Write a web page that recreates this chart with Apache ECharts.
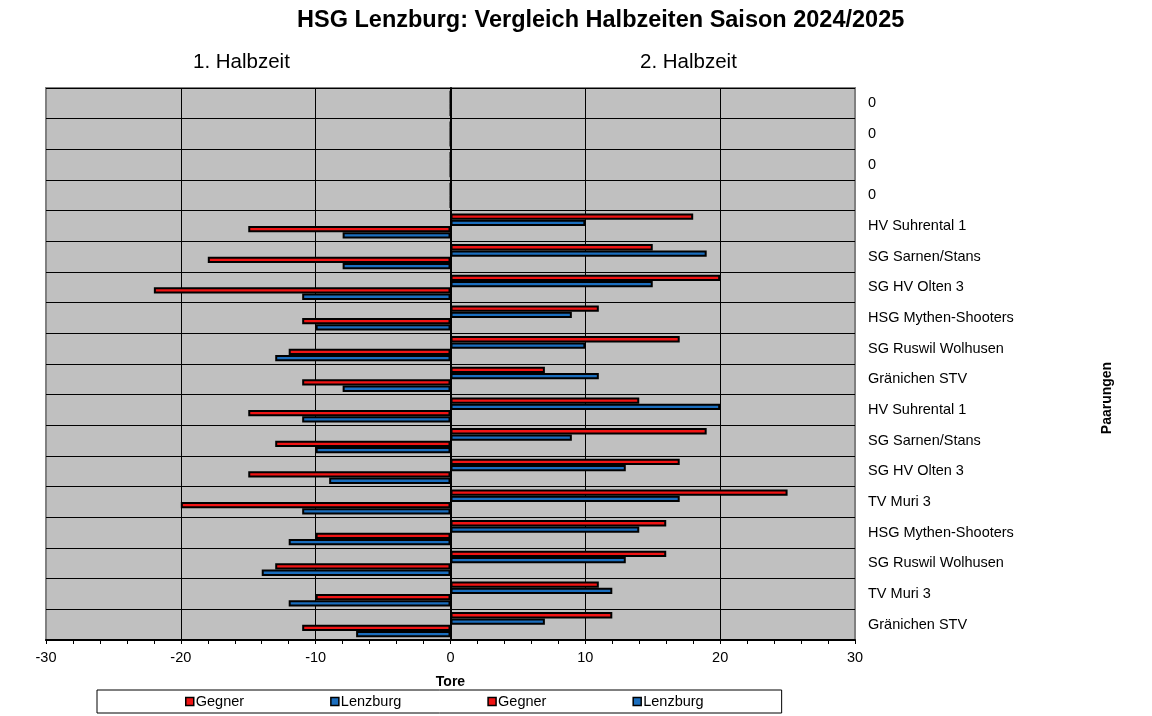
<!DOCTYPE html>
<html>
<head>
<meta charset="utf-8">
<script src="https://cdn.jsdelivr.net/npm/echarts@6/dist/echarts.min.js"></script>
<style>
html, body { margin: 0; padding: 0; background: #fff; }
#main { width: 1152px; height: 716px; }
</style>
</head>
<body>
<div id="main"></div>
<script>
var myChart = echarts.init(document.getElementById('main'));

// Paarungen, von oben nach unten
var categories = ['0', '0', '0', '0', 'HV Suhrental 1', 'SG Sarnen/Stans', 'SG HV Olten 3',
	'HSG Mythen-Shooters', 'SG Ruswil Wolhusen', 'Gränichen STV', 'HV Suhrental 1',
	'SG Sarnen/Stans', 'SG HV Olten 3', 'TV Muri 3', 'HSG Mythen-Shooters',
	'SG Ruswil Wolhusen', 'TV Muri 3', 'Gränichen STV'];
// 2. Halbzeit (rechts)
var gegner2 = [0, 0, 0, 0, 18, 15, 20, 11, 17, 7, 14, 19, 17, 25, 16, 16, 11, 12];
var lenzburg2 = [0, 0, 0, 0, 10, 19, 15, 9, 10, 11, 20, 9, 13, 17, 14, 13, 12, 7];
// 1. Halbzeit (links, negativ)
var gegner1 = [0, 0, 0, 0, -15, -18, -22, -11, -12, -11, -15, -13, -15, -20, -10, -13, -10, -11];
var lenzburg1 = [0, 0, 0, 0, -8, -8, -11, -10, -13, -8, -11, -10, -9, -11, -12, -14, -12, -7];
var xTicks = { min: -30, max: 30, interval: 10 };

var font = 'Arial, "Liberation Sans", sans-serif';
var red = '#F01414';
var blue = '#1B6EBE';

function barSeries(name, data, color) {
	return {
		name: name,
		type: 'bar',
		yAxisIndex: 0,
		data: data,
		barGap: '0%',
		barCategoryGap: '18%',
		itemStyle: {
			color: color,
			borderColor: '#000',
			borderWidth: 2
		}
	};
}

option = {
	animation: false,
	textStyle: { fontFamily: font },
	title: [{
		text: 'HSG Lenzburg: Vergleich Halbzeiten Saison 2024/2025',
		left: 297,
		top: 9,
		padding: 0,
		textStyle: { fontFamily: font, fontSize: 23.5, fontWeight: 'bold', color: '#000' }
	}, {
		text: '1. Halbzeit',
		left: 193,
		top: 52,
		padding: 0,
		textStyle: { fontFamily: font, fontSize: 20.5, fontWeight: 'normal', color: '#000' }
	}, {
		text: '2. Halbzeit',
		left: 640,
		top: 52,
		padding: 0,
		textStyle: { fontFamily: font, fontSize: 20.5, fontWeight: 'normal', color: '#000' }
	}],
	graphic: [{
		type: 'text',
		x: 1107,
		y: 398,
		rotation: Math.PI / 2,
		style: {
			text: 'Paarungen',
			align: 'center',
			verticalAlign: 'middle',
			fontFamily: font,
			fontSize: 14,
			fontWeight: 'bold',
			fill: '#000'
		}
	}],
	legend: {
		left: 97,
		top: 690,
		padding: [4, 78, 4, 88],
		itemGap: 86,
		itemWidth: 8,
		itemHeight: 8,
		icon: 'rect',
		borderColor: '#000',
		borderWidth: 1,
		itemStyle: { borderColor: '#000', borderWidth: 1.5 },
		formatter: function (name) { return name.replace(/ \d$/, ''); },
		textStyle: { fontFamily: font, fontSize: 14.5, color: '#000', padding: [0, 0, 0, -3] },
		data: ['Gegner 2', 'Lenzburg 2', 'Gegner 1', 'Lenzburg 1']
	},
	grid: {
		left: 46,
		right: 297,
		top: 88,
		bottom: 76,
		show: true,
		backgroundColor: '#C0C0C0',
		borderColor: '#808080',
		borderWidth: 2
	},
	xAxis: {
		type: 'value',
		min: xTicks.min,
		max: xTicks.max,
		interval: xTicks.interval,
		name: 'Tore',
		nameLocation: 'middle',
		nameGap: 35,
		nameTextStyle: { fontFamily: font, fontSize: 14, fontWeight: 'bold', color: '#000' },
		axisLine: { show: true, lineStyle: { color: '#000', width: 2 } },
		axisTick: { show: true, length: 4, lineStyle: { color: '#000' } },
		minorTick: { show: true, splitNumber: 5, length: 4, lineStyle: { color: '#000' } },
		axisLabel: { fontFamily: font, fontSize: 14.5, color: '#000', margin: 10 },
		splitLine: { show: true, showMinLine: false, showMaxLine: false, lineStyle: { color: '#000', width: 1 } }
	},
	yAxis: [{
		type: 'category',
		data: categories,
		inverse: true,
		axisLine: { show: true, onZero: true, lineStyle: { color: '#000', width: 2 } },
		axisTick: { show: true, length: 3, lineStyle: { color: '#000' } },
		axisLabel: { show: false },
		splitLine: { show: false }
	}, {
		type: 'category',
		data: categories,
		inverse: true,
		position: 'right',
		axisLine: { show: false, onZero: false },
		axisTick: { show: false },
		axisLabel: { fontFamily: font, fontSize: 14.5, color: '#000', align: 'left', margin: 13 },
		splitLine: { show: true, lineStyle: { color: '#000', width: 1 } }
	}],
	series: [
		barSeries('Gegner 2', gegner2, red),
		barSeries('Lenzburg 2', lenzburg2, blue),
		barSeries('Gegner 1', gegner1, red),
		barSeries('Lenzburg 1', lenzburg1, blue)
	]
};
myChart.setOption(option);
</script>
</body>
</html>
